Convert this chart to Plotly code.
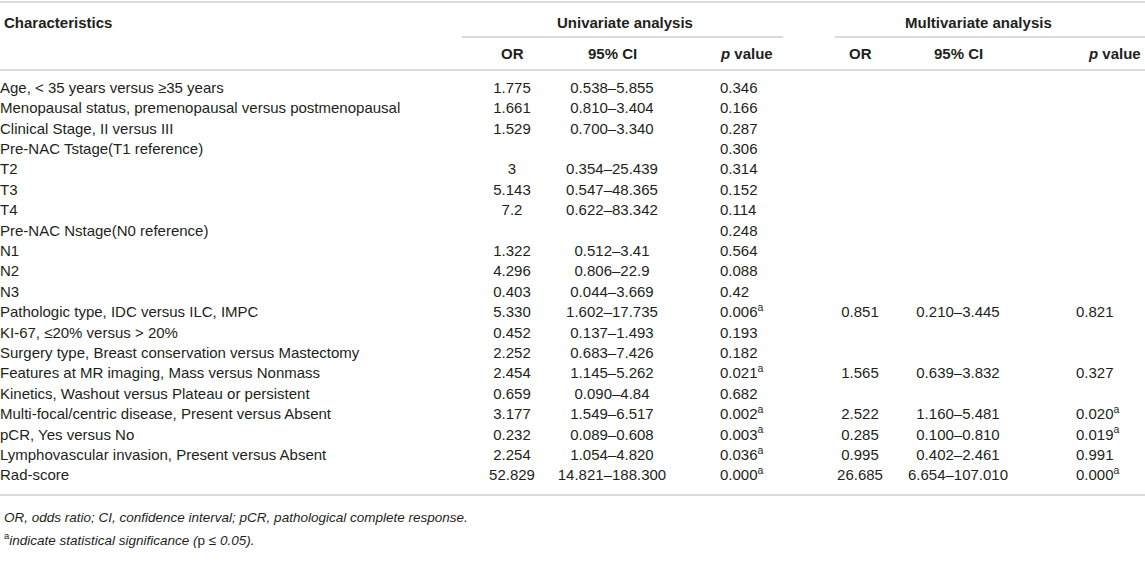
import plotly.graph_objects as go

# table contents
characteristics = [
    "Age, &lt; 35 years versus ≥35 years",
    "Menopausal status, premenopausal versus postmenopausal",
    "Clinical Stage, II versus III",
    "Pre-NAC Tstage(T1 reference)",
    "T2",
    "T3",
    "T4",
    "Pre-NAC Nstage(N0 reference)",
    "N1",
    "N2",
    "N3",
    "Pathologic type, IDC versus ILC, IMPC",
    "KI-67, ≤20% versus &gt; 20%",
    "Surgery type, Breast conservation versus Mastectomy",
    "Features at MR imaging, Mass versus Nonmass",
    "Kinetics, Washout versus Plateau or persistent",
    "Multi-focal/centric disease, Present versus Absent",
    "pCR, Yes versus No",
    "Lymphovascular invasion, Present versus Absent",
    "Rad-score",
]
uni_or = ["1.775", "1.661", "1.529", "", "3", "5.143", "7.2", "", "1.322", "4.296",
          "0.403", "5.330", "0.452", "2.252", "2.454", "0.659", "3.177", "0.232",
          "2.254", "52.829"]
uni_ci = ["0.538–5.855", "0.810–3.404", "0.700–3.340", "", "0.354–25.439",
          "0.547–48.365", "0.622–83.342", "", "0.512–3.41", "0.806–22.9",
          "0.044–3.669", "1.602–17.735", "0.137–1.493", "0.683–7.426",
          "1.145–5.262", "0.090–4.84", "1.549–6.517", "0.089–0.608",
          "1.054–4.820", "14.821–188.300"]
uni_p = ["0.346", "0.166", "0.287", "0.306", "0.314", "0.152", "0.114", "0.248",
         "0.564", "0.088", "0.42", "0.006", "0.193", "0.182", "0.021", "0.682",
         "0.002", "0.003", "0.036", "0.000"]
uni_sig = [0, 0, 0, 0, 0, 0, 0, 0, 0, 0, 0, 1, 0, 0, 1, 0, 1, 1, 1, 1]
multi_or = ["", "", "", "", "", "", "", "", "", "", "", "0.851", "", "", "1.565",
            "", "2.522", "0.285", "0.995", "26.685"]
multi_ci = ["", "", "", "", "", "", "", "", "", "", "", "0.210–3.445", "", "",
            "0.639–3.832", "", "1.160–5.481", "0.100–0.810", "0.402–2.461",
            "6.654–107.010"]
multi_p = ["", "", "", "", "", "", "", "", "", "", "", "0.821", "", "", "0.327",
           "", "0.020", "0.019", "0.991", "0.000"]
multi_sig = [0, 0, 0, 0, 0, 0, 0, 0, 0, 0, 0, 0, 0, 0, 0, 0, 1, 1, 0, 1]

footnotes = [
    "<i>OR, odds ratio; CI, confidence interval; pCR, pathological complete response.</i>",
    "<sup>a</sup><i>indicate statistical significance (</i>p ≤ <i>0.05).</i>",
]

W, H = 1145, 565
FONT = "Liberation Sans, Arial, sans-serif"
TXT = "#231f20"
RULE = "#cfcfcf"
SIZE = 15

row0, gap = 89, 20.4
rows_y = [row0 + i * gap for i in range(len(characteristics))]


def mark(vals, flags):
    return [v + "<sup>a</sup>" if f else v for v, f in zip(vals, flags)]


fig = go.Figure()


def col(x, texts, pos):
    # skip blank cells
    ys = [y for y, t in zip(rows_y, texts) if t]
    ts = [t for t in texts if t]
    fig.add_trace(go.Scatter(
        x=[x] * len(ts), y=ys, text=ts, mode="text",
        textposition=pos, hoverinfo="skip", showlegend=False,
        textfont=dict(family=FONT, size=SIZE, color=TXT)))


col(0, characteristics, "middle right")
col(512, uni_or, "middle center")
col(612, uni_ci, "middle center")
col(720, mark(uni_p, uni_sig), "middle right")
col(860, multi_or, "middle center")
col(958, multi_ci, "middle center")
col(1076, mark(multi_p, multi_sig), "middle right")

# headers
heads = [
    (2, 22, "<b>Characteristics</b>", "left"),
    (625, 22, "<b>Univariate analysis</b>", "center"),
    (978, 22, "<b>Multivariate analysis</b>", "center"),
    (512, 53, "<b>OR</b>", "center"),
    (612, 53, "<b>95% CI</b>", "center"),
    (775, 53, "<b><i>p</i> value</b>", "right"),
    (860, 53, "<b>OR</b>", "center"),
    (958, 53, "<b>95% CI</b>", "center"),
    (1143, 53, "<b><i>p</i> value</b>", "right"),
]
for x, y, t, a in heads:
    fig.add_annotation(x=x, y=y, text=t, showarrow=False, xanchor=a,
                       yanchor="middle", font=dict(family=FONT, size=SIZE, color=TXT))

for i, t in enumerate(footnotes):
    fig.add_annotation(x=2, y=517 + i * 22, text=t, showarrow=False, xanchor="left",
                       yanchor="middle", font=dict(family=FONT, size=13.5, color=TXT))

# rules
lines = [(0, W, 2), (462, 783, 37), (835, W, 37), (0, W, 70), (0, W, 495)]
for x0, x1, y in lines:
    fig.add_shape(type="line", x0=x0, x1=x1, y0=y, y1=y,
                  line=dict(color=RULE, width=1.6))

fig.update_xaxes(range=[0, W], visible=False, fixedrange=True)
fig.update_yaxes(range=[H, 0], visible=False, fixedrange=True)
fig.update_layout(width=W, height=H, margin=dict(l=0, r=0, t=0, b=0),
                  plot_bgcolor="white", paper_bgcolor="white")

fig.write_html("out.html", config={"displayModeBar": False},
               post_script="document.body.style.margin='0';")
